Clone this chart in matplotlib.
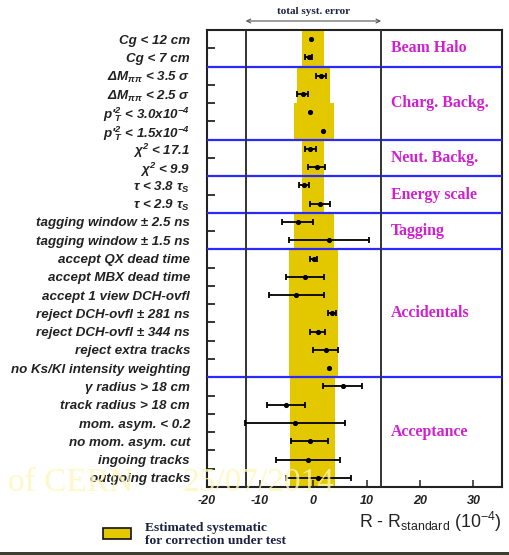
import matplotlib
matplotlib.use("Agg")
import matplotlib.pyplot as plt
from matplotlib.patches import Rectangle
from matplotlib.ticker import FixedLocator
from matplotlib import transforms
import numpy as np

plt.rcParams['font.family'] = 'Liberation Sans'
plt.rcParams['mathtext.fontset'] = 'custom'
plt.rcParams['mathtext.rm'] = 'Liberation Sans:bold:italic'
plt.rcParams['mathtext.it'] = 'Liberation Sans:bold:italic'
plt.rcParams['mathtext.bf'] = 'Liberation Sans:bold:italic'
plt.rcParams['mathtext.sf'] = 'Liberation Sans:bold:italic'

# ---- data -------------------------------------------------------------
cut_labels = [
    "Cg < 12 cm", "Cg < 7 cm",
    r"ΔM$_{\pi\pi}$ < 3.5 σ", r"ΔM$_{\pi\pi}$ < 2.5 σ",
    r"p'$_{T}^{2}$ < 3.0x10$^{-4}$", r"p'$_{T}^{2}$ < 1.5x10$^{-4}$",
    r"χ$^{2}$ < 17.1", r"χ$^{2}$ < 9.9",
    r"τ < 3.8 τ$_{S}$", r"τ < 2.9 τ$_{S}$",
    "tagging window ± 2.5 ns", "tagging window ± 1.5 ns",
    "accept QX dead time", "accept MBX dead time", "accept 1 view DCH-ovfl",
    "reject DCH-ovfl ± 281 ns", "reject DCH-ovfl ± 344 ns",
    "reject extra tracks", "no Ks/Kl intensity weighting",
    "γ radius > 18 cm", "track radius > 18 cm", "mom. asym. < 0.2",
    "no mom. asym. cut", "ingoing tracks", "outgoing tracks",
]

# R - R_standard shift for each cut variation (10^-4) and its error
shift = [-0.5, -0.9, 1.4, -2.0, -0.55, 1.75, -0.55, 0.65, -1.75, 1.2,
         -2.9, 2.85, 0.05, -1.6, -3.2, 3.5, 0.8, 2.3, 3.0,
         5.5, -5.1, -3.4, -0.7, -1.1, 0.9]
shift_err = [0.0, 0.65, 0.9, 1.0, 0.0, 0.0, 1.0, 1.6, 1.0, 1.85,
             2.9, 7.5, 0.6, 3.5, 5.2, 0.8, 1.4, 2.3, 0.0,
             3.7, 3.6, 9.4, 3.5, 6.0, 6.1]

# estimated systematic band for each correction
band_lo = [-2.2, -2.2, -3.1, -3.1, -3.7, -3.7, -2.2, -2.2, -2.2, -2.2,
           -3.7, -3.7, -4.65, -4.65, -4.65, -4.65, -4.65, -4.65, -4.65,
           -4.3, -4.3, -4.3, -4.3, -4.3, -4.3]
band_hi = [1.95, 1.95, 3.2, 3.2, 3.8, 3.8, 1.95, 1.95, 1.95, 1.95,
           3.8, 3.8, 4.7, 4.7, 4.7, 4.7, 4.7, 4.7, 4.7,
           4.1, 4.1, 4.1, 4.1, 4.1, 4.1]

group_names = ["Beam Halo", "Charg. Backg.", "Neut. Backg.", "Energy scale",
               "Tagging", "Accidentals", "Acceptance"]
group_sizes = [2, 4, 2, 2, 2, 7, 6]

total_syst = 12.7
xticks = [-20, -10, 0, 10, 20, 30]

# ---- style --------------------------------------------------------------
YELLOW = "#e3c800"
BLUE = "#2a2aff"
MAGENTA = "#d020d0"
NAVY = "#1c2242"
W, H = 510, 555

fig = plt.figure(figsize=(W / 100, H / 100), dpi=100)
ax = fig.add_axes([206.7 / W, 1 - 487 / H, (501.7 - 206.7) / W, (487 - 30) / H])

rows = np.arange(len(cut_labels))
shift = np.array(shift)
shift_err = np.array(shift_err)

# systematic band as a single stepped polygon
ys, los, his = [], [], []
for r in rows:
    ys += [r - 0.5, r + 0.5]
    los += [band_lo[r]] * 2
    his += [band_hi[r]] * 2
ax.fill_betweenx(ys, los, his, color=YELLOW, linewidth=0, zorder=1)

# group separators and total systematic limits
starts = np.cumsum([0] + group_sizes[:-1])
boundaries = [s - 0.5 for s in starts[1:]]
for b in boundaries:
    ax.axhline(b, color=BLUE, lw=1.6, zorder=3)
for xv in (-total_syst, total_syst):
    ax.axvline(xv, color="#333333", lw=1.4, zorder=3)

# points with errors
has_err = shift_err > 0
ax.errorbar(shift[has_err], rows[has_err], xerr=shift_err[has_err], fmt="none",
            ecolor="black", elinewidth=1.3, capsize=2.5, capthick=1.3, zorder=4)
ax.plot(shift, rows, "o", ms=2.7, color="black", zorder=5)

# group names
for name, s, n in zip(group_names, starts, group_sizes):
    ax.text(14.5, s + (n - 1) / 2, name, color=MAGENTA, fontsize=11.4,
            family="Liberation Serif", fontweight="bold", va="center", ha="left")

ax.set_xlim(-20, 35.3)
ax.set_ylim(len(cut_labels) - 0.5, -0.5)

ax.set_yticks(rows)
ax.set_yticklabels(cut_labels, fontsize=9.6, fontweight="bold", fontstyle="italic")
ax.tick_params(axis="y", which="major", length=0, pad=12, colors="#222222")
minor_y = [r + 0.5 for r in rows[:-1] if (r + 0.5) not in boundaries]
ax.yaxis.set_minor_locator(FixedLocator(minor_y))
ax.tick_params(axis="y", which="minor", direction="in", length=6, width=1.1)

ax.set_xticks(xticks)
ax.set_xticklabels([str(t) for t in xticks], fontsize=9, fontweight="bold",
                   fontstyle="italic")
ax.tick_params(axis="x", direction="in", length=5, width=1.1, pad=5.5,
               colors="#222222")

for sp in ax.spines.values():
    sp.set_linewidth(1.5)
    sp.set_color("#222222")

ax.set_xlabel(r"R - R$_{\mathregular{standard}}$ (10$^{\mathregular{-4}}$)",
              loc="right", fontsize=12.8, labelpad=2, color="#222222")

# total systematic error arrow above the frame
blend = transforms.blended_transform_factory(ax.transData, fig.transFigure)
ax.annotate("", xy=(total_syst, 1 - 21 / H), xytext=(-total_syst, 1 - 21 / H),
            xycoords=blend, textcoords=blend, annotation_clip=False,
            arrowprops=dict(arrowstyle="<->", color="#555555", lw=0.8,
                            shrinkA=0, shrinkB=0, mutation_scale=7))
fig.text(0, 1 - 12 / H, "total syst. error", transform=blend, ha="center",
         va="center", fontsize=8, family="Liberation Serif", fontweight="bold",
         color=NAVY)

# legend box
fig.patches.append(Rectangle((103.3 / W, 1 - 539.3 / H), 27.7 / W, 11.6 / H,
                             transform=fig.transFigure, facecolor=YELLOW,
                             edgecolor="#111111", lw=1.2))
fig.text(145 / W, 1 - 528 / H, "Estimated systematic", fontsize=9.7,
         family="Liberation Serif", fontweight="bold", color=NAVY, va="center")
fig.text(145 / W, 1 - 541.5 / H, "for correction under test", fontsize=9.7,
         family="Liberation Serif", fontweight="bold", color=NAVY, va="center")

# slide footer
fig.text(8 / W, 1 - 491 / H, "of CERN", fontsize=24, family="Liberation Serif",
         color="#fff6b8", alpha=0.8, va="baseline", zorder=10)
fig.text(183 / W, 1 - 491 / H, "25/07/2014", fontsize=24, family="Liberation Serif",
         color="#fff6b8", alpha=0.8, va="baseline", zorder=10)
fig.patches.append(Rectangle((0, 0), 1, 3 / H, transform=fig.transFigure,
                             facecolor="#3d3d30", edgecolor="none"))

fig.savefig("out.png", dpi=100)
